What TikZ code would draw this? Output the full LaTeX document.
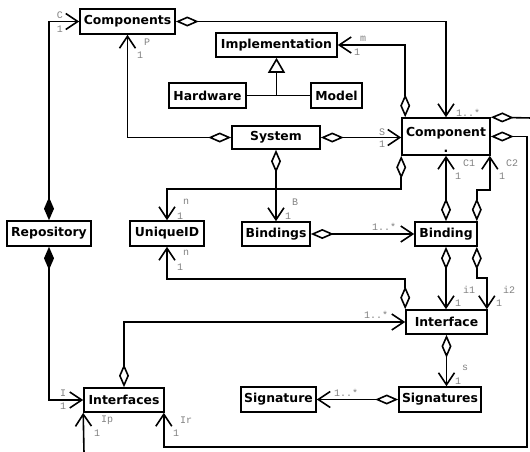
\documentclass[tikz,border=0pt]{standalone}
\usepackage{fontspec}
\setmainfont{DejaVu Sans}
\newfontfamily\labelfont{Liberation Mono}
\usetikzlibrary{arrows.meta}

\definecolor{labelgray}{RGB}{130,130,130}

\begin{document}
\begin{tikzpicture}[x=1pt,y=-1pt,
  cls/.style={draw, line width=1.6pt, inner sep=0pt, align=center,
    font=\fontsize{12.4}{15}\selectfont\bfseries},
  conn/.style={line width=1.6pt},
  barb/.tip={Straight Barb[length=12pt,width=16pt]},
  odia/.tip={Diamond[open,length=23pt,width=10pt]},
  fdia/.tip={Diamond[length=23pt,width=10pt]},
  agg/.style={conn, odia-barb},
  comp/.style={conn, fdia-barb},
  lbl/.style={font=\labelfont\fontsize{10}{10}\selectfont, text=labelgray, inner sep=0pt},
]
\useasboundingbox (0,0) rectangle (530,451);

% classes
\node[cls, minimum width=95pt, minimum height=25pt] (components) at (127.5,21.5) {Components};
\node[cls, minimum width=121pt, minimum height=24pt] (implementation) at (276.5,45) {Implementation};
\node[cls, minimum width=77pt, minimum height=25pt] (hardware) at (207.5,95.5) {Hardware};
\node[cls, minimum width=51pt, minimum height=25pt] (model) at (336.5,95.5) {Model};
\node[cls, minimum width=88pt, minimum height=23pt] (system) at (276,137.5) {System};
\node[cls, minimum width=88pt, minimum height=37pt] (component) at (446,136.5) {\rule{0pt}{15pt}Component\\[1pt].};
\node[cls, minimum width=84pt, minimum height=25pt] (repository) at (49,233.5) {Repository};
\node[cls, minimum width=74pt, minimum height=25pt] (uniqueid) at (167,233.5) {UniqueID};
\node[cls, minimum width=68pt, minimum height=24pt] (bindings) at (276,234) {Bindings};
\node[cls, minimum width=62pt, minimum height=24pt] (binding) at (446,234) {Binding};
\node[cls, minimum width=81pt, minimum height=24pt] (interface) at (446.5,322) {Interface};
\node[cls, minimum width=80pt, minimum height=24pt] (interfaces) at (124,400) {Interfaces};
\node[cls, minimum width=75pt, minimum height=25pt] (signature) at (278.5,399.5) {Signature};
\node[cls, minimum width=82pt, minimum height=25pt] (signatures) at (440,399.5) {Signatures};

% free ends running off the drawing
\coordinate (edgeR) at (532,118);
\coordinate (edgeB) at (84,453);
\coordinate (rcorner) at (527,447);

% generalization
\draw[conn] (hardware.east) -- (model.west);
\draw[conn, -{Triangle[open,length=15pt,width=17pt]}] (hardware.east -| implementation.south) -- (implementation.south);

% associations
\draw[comp] (repository.north) |- (components.west);
\draw[comp] (repository.south) |- (interfaces.west);
\draw[agg] (components.east) -| (component.north);
\draw[agg] (system.west) -| (components.south);
\draw[agg] ([xshift=4pt]component.north west) |- (implementation.east);
\draw[agg] (system.east) -- (system.east -| component.west);
\draw[agg] (system.south) -- (bindings.north);
\draw[agg] (component.south west) -- ++(0,33) -| (uniqueid.north);
\draw[agg] (interface.north west) -- ++(0,-30) -| (uniqueid.south);
\draw[agg] (bindings.east) -- (binding.west);
\draw[agg] (binding.north) -- (component.south);
\draw[agg] ([xshift=-1pt]binding.north east) -- ++(0,-31) -| ([xshift=-1pt]component.south east);
\draw[agg] (binding.south) -- (binding.south |- interface.north);
\draw[agg] ([xshift=-1pt]binding.south east) -- ++(0,31) -| ([xshift=-1pt]interface.north east);
\draw[agg] (interfaces.north) |- (interface.west);
\draw[agg] (interface.south) -- (interface.south |- signatures.north);
\draw[agg] (signatures.west) -- (signature.east);
\draw[agg] (component.east) -| (rcorner) -| ([xshift=-1pt]interfaces.south east);
\draw[conn, odia-] (component.north east) -- (edgeR);
\draw[conn, -barb] (edgeB) -- (interfaces.south west);

% role names and multiplicities
\node[lbl] (lC) at (60,15) {C};
\node[lbl] (lC1) at (60,29) {1};
\node[lbl] (lI) at (63,393) {I};
\node[lbl] (lI1) at (63,406.5) {1};
\node[lbl] (lP) at (147,42) {P};
\node[lbl] (lP1) at (140,55) {1};
\node[lbl] (lm) at (363,39) {m};
\node[lbl] (lm1) at (357,52) {1};
\node[lbl] (lcomp) at (468,113) {1..*};
\node[lbl] (lS) at (382,132) {S};
\node[lbl] (lS1) at (382,144) {1};
\node[lbl] (lB) at (295,202) {B};
\node[lbl] (lB1) at (288,216) {1};
\node[lbl] (ln) at (186,202) {n};
\node[lbl] (ln1) at (180,216) {1};
\node[lbl] (lnb) at (186,253) {n};
\node[lbl] (lnb1) at (180,267) {1};
\node[lbl] (lbind) at (384,227) {1..*};
\node[lbl] (lCa) at (469,163) {C1};
\node[lbl] (lCa1) at (458,176) {1};
\node[lbl] (lCb) at (512,163) {C2};
\node[lbl] (lCb1) at (502,176) {1};
\node[lbl] (lia) at (469,290) {i1};
\node[lbl] (lia1) at (458,303) {1};
\node[lbl] (lib) at (509,290) {i2};
\node[lbl] (lib1) at (499,303) {1};
\node[lbl] (lintf) at (376,315) {1..*};
\node[lbl] (ls) at (465,368) {s};
\node[lbl] (ls1) at (458,381) {1};
\node[lbl] (lsig) at (346,393) {1..*};
\node[lbl] (lIp) at (107,420) {Ip};
\node[lbl] (lIp1) at (97,433) {1};
\node[lbl] (lIr) at (186,420) {Ir};
\node[lbl] (lIr1) at (176,433) {1};
\end{tikzpicture}
\end{document}
